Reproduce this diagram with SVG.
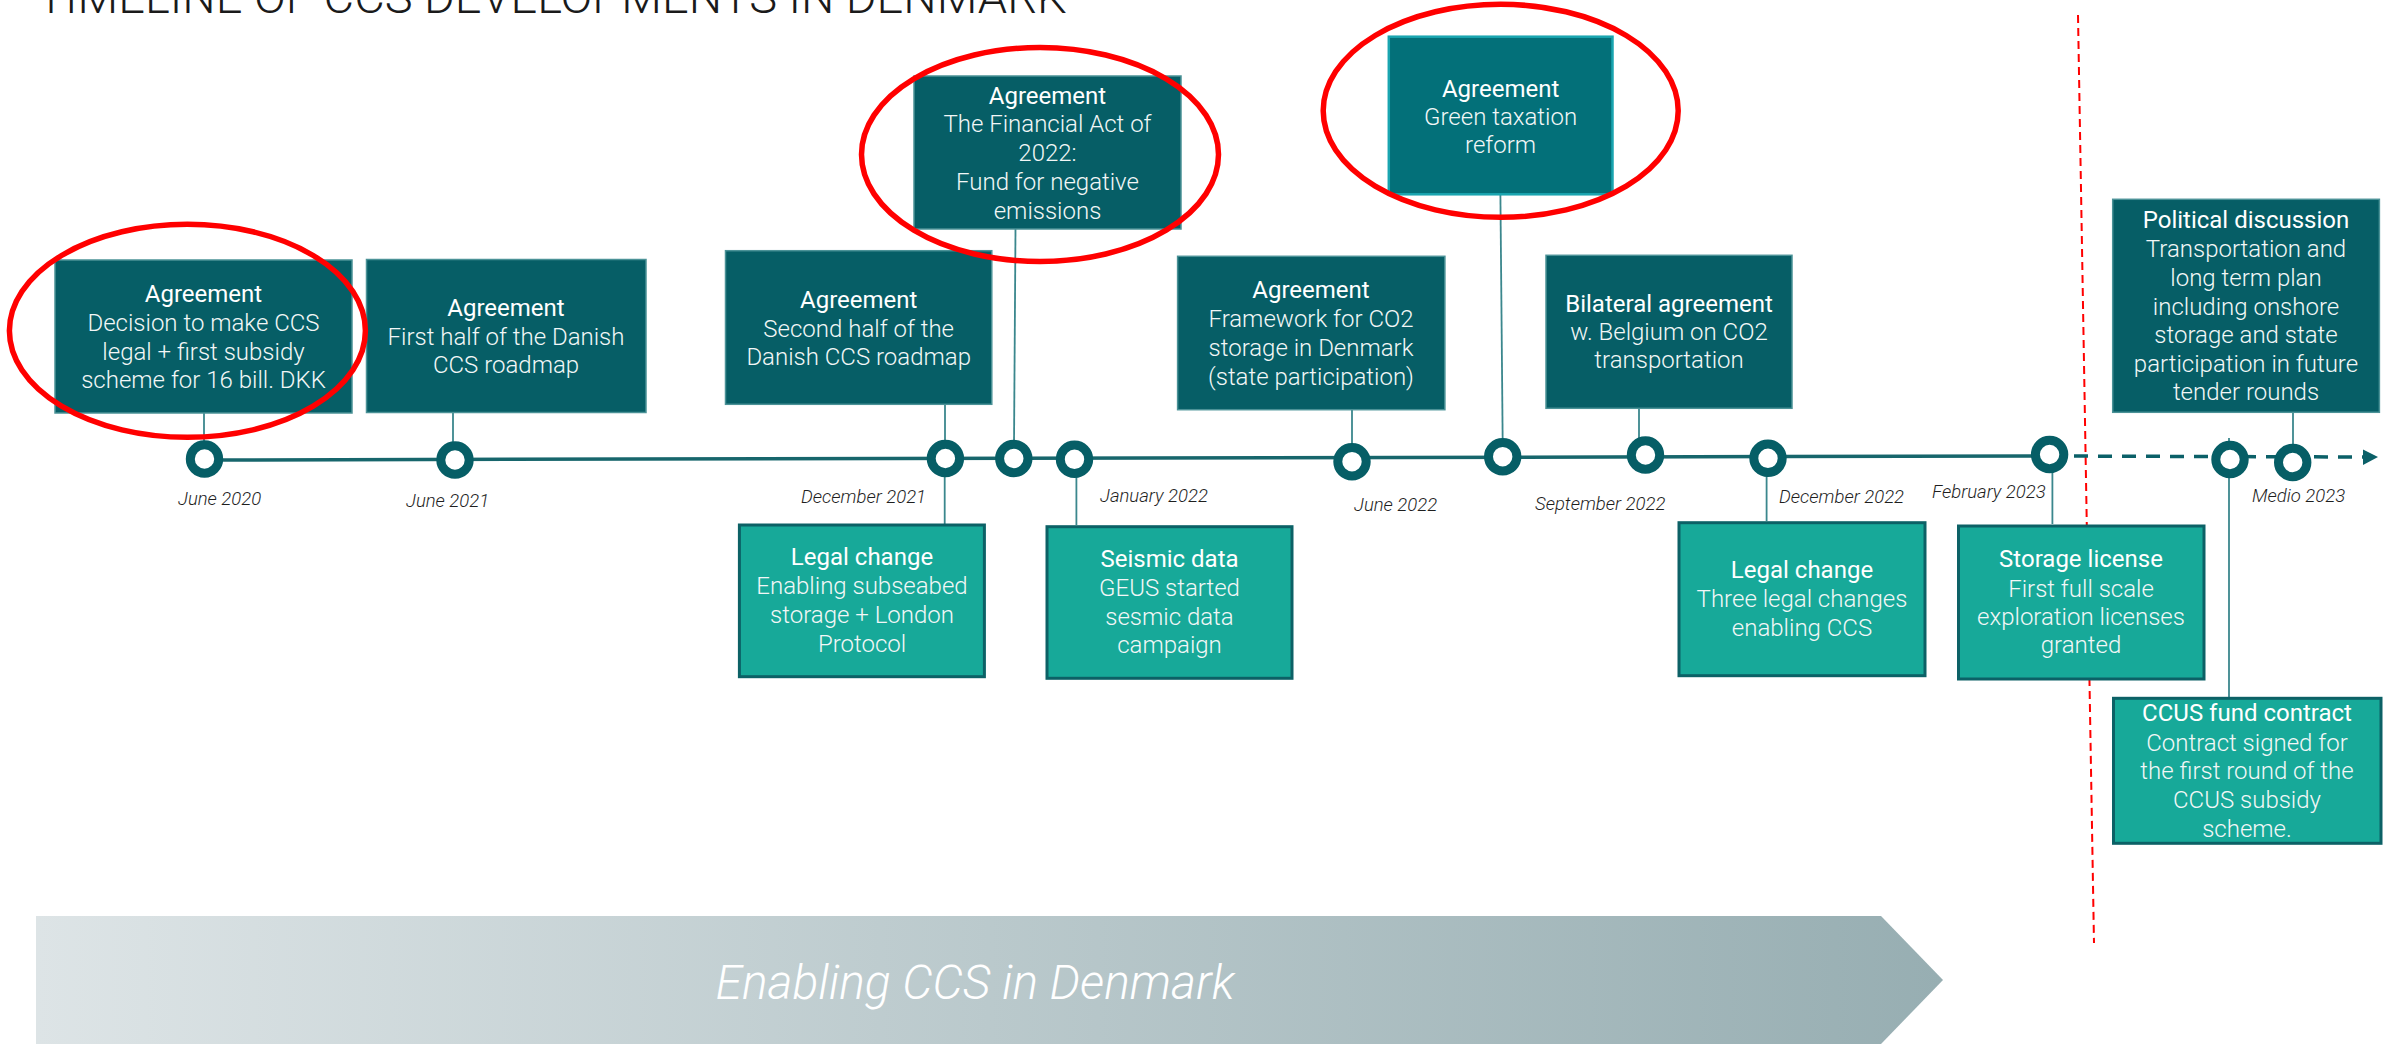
<svg xmlns="http://www.w3.org/2000/svg" width="2384" height="1044" viewBox="0 0 2384 1044">
<style>
.dk{fill:#065E66;stroke:#4b9297;stroke-width:1.5}
.gt{fill:#037079;stroke:#1AA5B0;stroke-width:2.5}
.lt{fill:#17A999;stroke:#0c6166;stroke-width:3}
.h{font-family:Roboto,"Liberation Sans",sans-serif;font-size:24px;font-weight:400;fill:#fff;text-anchor:middle}
.b{font-family:Roboto,"Liberation Sans",sans-serif;font-size:24px;font-weight:300;fill:#f2f7f7;text-anchor:middle}
.d{font-family:Roboto,"Liberation Sans",sans-serif;font-size:18.5px;font-weight:300;font-style:italic;fill:#1f1f1f}
.c{stroke:#3b878d;stroke-width:1.8;fill:none}
.dot{fill:#fff;stroke:#065E66;stroke-width:9}
.red{fill:none;stroke:#FF0000;stroke-width:5.5}
</style>
<defs>
<linearGradient id="grad" x1="0" y1="0" x2="1" y2="0">
<stop offset="0" stop-color="#DDE4E6"/>
<stop offset="1" stop-color="#97AEB2"/>
</linearGradient>
</defs>

<text x="37" y="13" font-family="Roboto, 'Liberation Sans', sans-serif" font-size="47" font-weight="300" fill="#1a1a1a">TIMELINE OF CCS DEVELOPMENTS IN DENMARK</text>

<g id="banner">
<path d="M36 916 L1881 916 L1943 980 L1881 1044 L36 1044 Z" fill="url(#grad)"/>
<text x="975" y="999" font-family="Roboto, 'Liberation Sans', sans-serif" font-size="48" font-weight="300" font-style="italic" fill="#fff" text-anchor="middle">Enabling CCS in Denmark</text>
</g>

<line id="cutoff" x1="2078" y1="15" x2="2094" y2="943" stroke="#FF0000" stroke-width="2" stroke-dasharray="8 5"/>

<g id="connectors">
<line x1="204" y1="460" x2="2050" y2="456" stroke="#17666c" stroke-width="3.5"/>
<line x1="2050" y1="456" x2="2364" y2="457" stroke="#0b6068" stroke-width="3.5" stroke-dasharray="14 10"/>
<polygon points="2363,449.5 2378,457 2363,465" fill="#0b6068"/>
<line class="c" x1="204" y1="413" x2="204" y2="445"/>
<line class="c" x1="453" y1="413" x2="453" y2="445"/>
<line class="c" x1="945" y1="404" x2="945" y2="445"/>
<line class="c" x1="1015.5" y1="229" x2="1014" y2="445"/>
<line class="c" x1="1352" y1="410" x2="1352" y2="448"/>
<line class="c" x1="1500.4" y1="194" x2="1502.7" y2="443"/>
<line class="c" x1="1639" y1="408" x2="1639" y2="442"/>
<line class="c" x1="2293" y1="412" x2="2293" y2="448"/>
<line class="c" x1="944.7" y1="472" x2="944.7" y2="524"/>
<line class="c" x1="1076.4" y1="472" x2="1076.4" y2="525"/>
<line class="c" x1="1766.6" y1="472" x2="1766.6" y2="521"/>
<line class="c" x1="2052.4" y1="468" x2="2052.4" y2="524"/>
<line class="c" x1="2229" y1="438" x2="2229" y2="697"/>
</g>

<g id="dots">
<circle class="dot" cx="204.5" cy="459" r="14.2"/>
<circle class="dot" cx="455" cy="460" r="14.2"/>
<circle class="dot" cx="945.4" cy="458.5" r="14.2"/>
<circle class="dot" cx="1013.8" cy="458.5" r="14.2"/>
<circle class="dot" cx="1074.5" cy="459.3" r="14.2"/>
<circle class="dot" cx="1352" cy="461.7" r="14.2"/>
<circle class="dot" cx="1502.7" cy="456.7" r="14.2"/>
<circle class="dot" cx="1645.5" cy="455" r="14.2"/>
<circle class="dot" cx="1768" cy="458.3" r="14.2"/>
<circle class="dot" cx="2049.6" cy="454.5" r="14.2"/>
<circle class="dot" cx="2230" cy="459.5" r="14.2"/>
<circle class="dot" cx="2292.7" cy="462.5" r="14.2"/>
</g>

<g id="dates">
<text class="d" x="178" y="505">June 2020</text>
<text class="d" x="406" y="507">June 2021</text>
<text class="d" x="801" y="502.7">December 2021</text>
<text class="d" x="1100" y="501.7">January 2022</text>
<text class="d" x="1354" y="511">June 2022</text>
<text class="d" x="1535" y="510">September 2022</text>
<text class="d" x="1779" y="503.3">December 2022</text>
<text class="d" x="1932" y="498.3">February 2023</text>
<text class="d" x="2252" y="501.7">Medio 2023</text>
</g>

<g id="n-ccs-legal">
<rect class="dk" x="55" y="260" width="297" height="153"/>
<text class="h" x="203.5" y="302">Agreement</text>
<text class="b" x="203.5" y="331">Decision to make CCS</text>
<text class="b" x="203.5" y="359.5">legal + first subsidy</text>
<text class="b" x="203.5" y="388">scheme for 16 bill. DKK</text>
</g>

<g id="n-first-half">
<rect class="dk" x="366.5" y="259.5" width="279.5" height="153"/>
<text class="h" x="506" y="316">Agreement</text>
<text class="b" x="506" y="344.5">First half of the Danish</text>
<text class="b" x="506" y="373">CCS roadmap</text>
</g>

<g id="n-second-half">
<rect class="dk" x="725.5" y="250.7" width="266.3" height="153.6"/>
<text class="h" x="858.7" y="308">Agreement</text>
<text class="b" x="858.7" y="336.7">Second half of the</text>
<text class="b" x="858.7" y="365">Danish CCS roadmap</text>
</g>

<g id="n-financial-act">
<rect class="dk" x="914" y="76" width="267" height="153"/>
<text class="h" x="1047.5" y="104">Agreement</text>
<text class="b" x="1047.5" y="132">The Financial Act of</text>
<text class="b" x="1047.5" y="161">2022:</text>
<text class="b" x="1047.5" y="190">Fund for negative</text>
<text class="b" x="1047.5" y="218.5">emissions</text>
</g>

<g id="n-framework">
<rect class="dk" x="1177.6" y="256.3" width="267.3" height="153.4"/>
<text class="h" x="1311" y="298.3">Agreement</text>
<text class="b" x="1311" y="327.3">Framework for CO2</text>
<text class="b" x="1311" y="356">storage in Denmark</text>
<text class="b" x="1311" y="385">(state participation)</text>
</g>

<g id="n-green-tax">
<rect class="gt" x="1388.8" y="36.7" width="223.7" height="157.6"/>
<text class="h" x="1500.6" y="96.7">Agreement</text>
<text class="b" x="1500.6" y="125">Green taxation</text>
<text class="b" x="1500.6" y="153.3">reform</text>
</g>

<g id="n-bilateral">
<rect class="dk" x="1546" y="255.3" width="246" height="153"/>
<text class="h" x="1669" y="311.7">Bilateral agreement</text>
<text class="b" x="1669" y="340">w. Belgium on CO2</text>
<text class="b" x="1669" y="368.3">transportation</text>
</g>

<g id="n-political">
<rect class="dk" x="2112.7" y="199.3" width="266.7" height="213"/>
<text class="h" x="2246" y="228.3">Political discussion</text>
<text class="b" x="2246" y="256.7">Transportation and</text>
<text class="b" x="2246" y="286">long term plan</text>
<text class="b" x="2246" y="315">including onshore</text>
<text class="b" x="2246" y="343.3">storage and state</text>
<text class="b" x="2246" y="371.7">participation in future</text>
<text class="b" x="2246" y="400">tender rounds</text>
</g>

<g id="n-legal-1">
<rect class="lt" x="739.4" y="525" width="245" height="151.7"/>
<text class="h" x="862" y="565">Legal change</text>
<text class="b" x="862" y="594">Enabling subseabed</text>
<text class="b" x="862" y="623.3">storage + London</text>
<text class="b" x="862" y="652.3">Protocol</text>
</g>

<g id="n-seismic">
<rect class="lt" x="1047" y="526.7" width="245" height="151.6"/>
<text class="h" x="1169.5" y="566.7">Seismic data</text>
<text class="b" x="1169.5" y="596">GEUS started</text>
<text class="b" x="1169.5" y="625">sesmic data</text>
<text class="b" x="1169.5" y="653.3">campaign</text>
</g>

<g id="n-legal-2">
<rect class="lt" x="1679" y="522.7" width="246" height="153"/>
<text class="h" x="1802" y="578.3">Legal change</text>
<text class="b" x="1802" y="606.7">Three legal changes</text>
<text class="b" x="1802" y="635.7">enabling CCS</text>
</g>

<g id="n-storage">
<rect class="lt" x="1958.5" y="526" width="245.5" height="153"/>
<text class="h" x="2081" y="567.3">Storage license</text>
<text class="b" x="2081" y="596.7">First full scale</text>
<text class="b" x="2081" y="625">exploration licenses</text>
<text class="b" x="2081" y="653.3">granted</text>
</g>

<g id="n-ccus">
<rect class="lt" x="2113.5" y="698.3" width="267.5" height="145"/>
<text class="h" x="2247" y="720.7">CCUS fund contract</text>
<text class="b" x="2247" y="750.7">Contract signed for</text>
<text class="b" x="2247" y="779">the first round of the</text>
<text class="b" x="2247" y="808.3">CCUS subsidy</text>
<text class="b" x="2247" y="836.7">scheme.</text>
</g>

<g id="highlights">
<ellipse class="red" cx="187.4" cy="330.8" rx="178" ry="106.5"/>
<ellipse class="red" cx="1040" cy="154.5" rx="178.5" ry="107"/>
<ellipse class="red" cx="1500.7" cy="110.8" rx="177.5" ry="106.5"/>
</g>
</svg>
